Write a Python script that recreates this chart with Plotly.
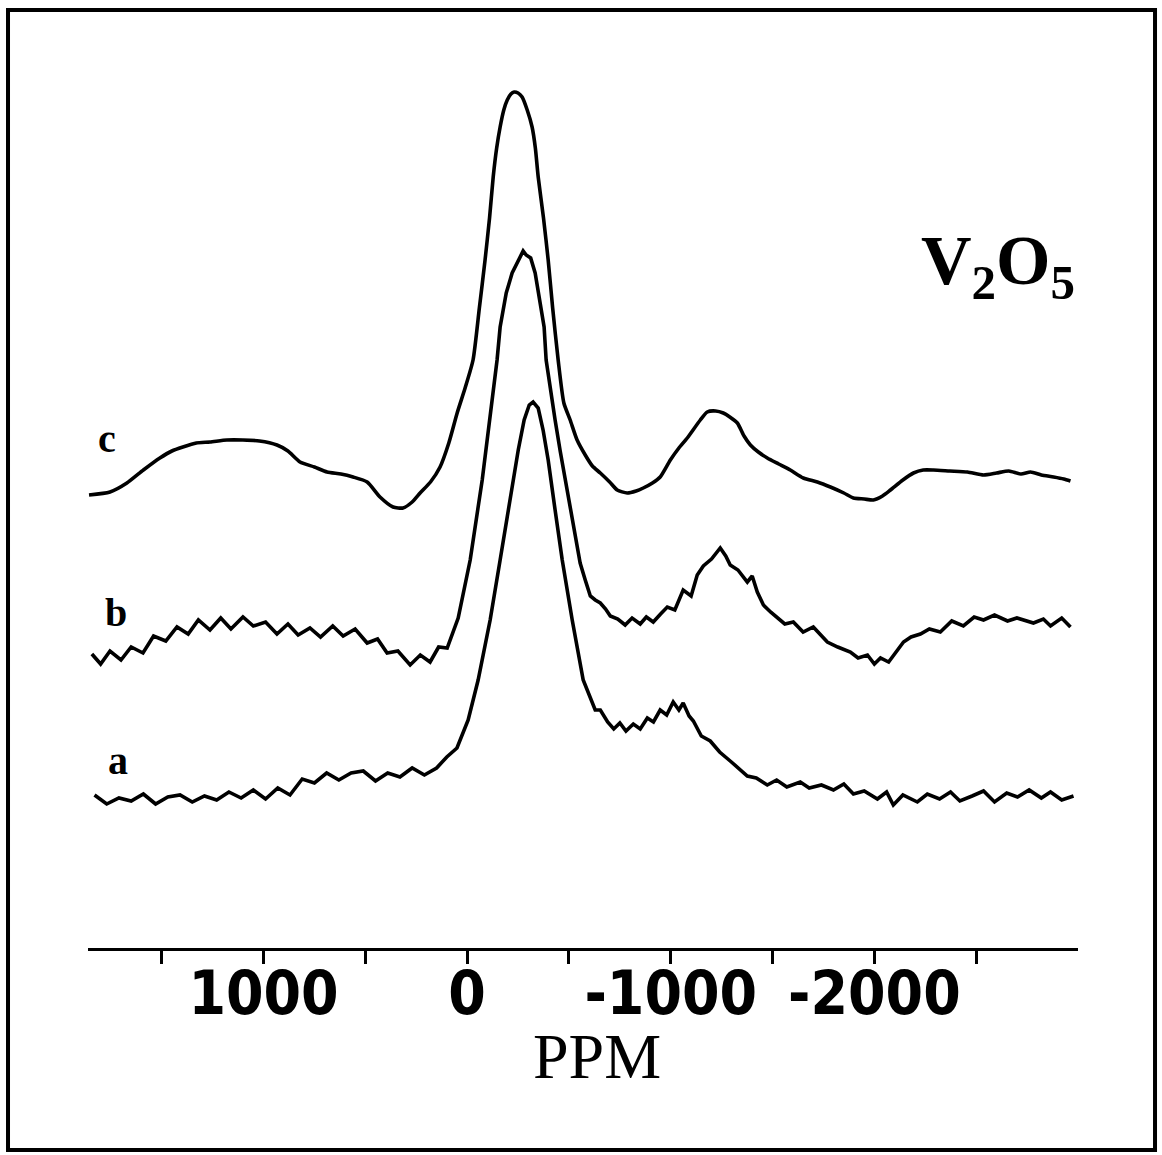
import plotly.graph_objects as go

# ---------------- data (chemical shift in ppm, stacked intensity in a.u.) ----------------
c_ppm = [1857, 1754, 1671, 1590, 1509, 1450, 1396, 1330, 1263, 1180, 1101, 1020, 934, 880, 821, 750,
         688, 620, 560, 491, 428, 364, 315, 270, 231, 180, 133, 90, 49, 10, -29, -60, -88, -110,
         -128, -145, -162, -180, -197, -215, -231, -250, -270, -295, -319, -335, -349, -375, -398,
         -420, -447, -475, -506, -540, -580, -615, -654, -700, -737, -786, -830, -865, -910, -948,
         -998, -1040, -1081, -1145, -1179, -1220, -1258, -1290, -1327, -1360, -1391, -1430, -1474,
         -1530, -1587, -1651, -1720, -1784, -1850, -1897, -1950, -1995, -2040, -2079, -2140, -2192,
         -2240, -2290, -2370, -2457, -2536, -2600, -2660, -2720, -2767, -2820, -2880, -2930, -2963]
c_int = [453, 456, 465, 478, 490, 497, 501, 505, 506, 508, 508, 507, 503, 497, 486, 481,
         476, 474, 471, 466, 451, 441, 440, 446, 455, 466, 481, 505, 535, 560, 588, 640, 688, 730,
         771, 800, 821, 838, 848, 854, 856, 855, 851, 838, 821, 800, 771, 730, 688,
         640, 588, 545, 528, 508, 493, 482, 475, 466, 458, 455, 457, 460, 465, 471,
         488, 500, 510, 528, 536, 537, 535, 531, 525, 512, 503, 496, 490,
         484, 478, 470, 466, 461, 455, 450, 449, 448, 452, 458, 468, 475,
         478, 478, 477, 476, 473, 475, 477, 474, 476, 473, 471, 469, 467]

b_ppm = [1843, 1800, 1754, 1700, 1650, 1592, 1540, 1480, 1425, 1370, 1320, 1263, 1210, 1160, 1101,
         1050, 990, 934, 880, 830, 772, 720, 660, 609, 550, 491, 440, 393, 340, 280, 230, 182, 140,
         98, 44, -15, -74, -123, -147, -162, -192, -221, -256, -275, -290, -312, -334, -356, -378,
         -388, -410, -432, -457, -482, -506, -531, -555, -580, -605, -629,
         -654, -680, -703, -740, -776, -810, -850, -880, -914, -950, -983, -1020, -1061, -1100,
         -1130, -1160, -1200, -1243, -1270, -1292, -1330, -1376, -1400, -1425, -1455, -1490, -1523,
         -1560, -1602, -1650, -1700, -1740, -1769, -1820, -1882, -1920, -1966, -2000, -2030, -2070,
         -2113, -2143, -2180, -2226, -2270, -2324, -2380, -2437, -2490, -2536, -2590, -2654, -2700,
         -2781, -2830, -2865, -2920, -2963]
b_int = [294, 284, 297, 288, 301, 295, 312, 307, 321, 314, 328, 318, 330, 319, 331,
         322, 326, 314, 324, 313, 320, 311, 322, 312, 319, 305, 309, 295, 297, 283, 293, 286, 301,
         300, 330, 388, 468, 548, 588, 621, 655, 675, 690, 697, 693, 690, 675, 648, 621,
         588, 555, 528, 497, 468, 437, 408, 385, 368, 352, 348,
         345, 339, 332, 329, 323, 330, 324, 331, 326, 334, 341, 338, 358, 352,
         373, 382, 389, 400, 392, 383, 378, 366, 372, 356, 343, 336, 330,
         324, 326, 316, 321, 312, 306, 301, 296, 290, 293, 284, 290, 286,
         297, 306, 311, 314, 319, 316, 327, 322, 331, 328, 333, 327, 330,
         325, 329, 322, 330, 321]

a_ppm = [1830, 1770, 1710, 1650, 1590, 1530, 1470, 1410, 1350, 1290, 1230, 1170, 1110, 1050, 990,
         930, 870, 810, 750, 690, 630, 570, 510, 450, 390, 330, 270, 210, 150, 100, 50,
         -5, -54, -113, -162, -211, -251, -280, -305, -324, -349, -373, -398, -432, -467, -516,
         -570, -629,
         -654, -690, -720, -750, -780, -816, -850, -885, -915, -948, -980, -1012, -1040, -1061,
         -1090, -1111, -1150, -1194, -1240, -1292, -1330, -1376, -1420, -1474, -1520, -1570, -1636,
         -1680, -1740, -1799, -1850, -1897, -1950, -2015, -2060, -2093, -2140, -2211, -2260, -2320,
         -2374, -2420, -2480, -2536, -2590, -2650, -2703, -2760, -2820, -2865, -2920, -2978]
a_int = [153, 144, 150, 147, 154, 144, 151, 153, 146, 152, 148, 156, 150, 158, 149,
         160, 153, 169, 165, 175, 168, 175, 177, 167, 175, 171, 180, 173, 180, 191, 200,
         228, 268, 328, 388, 448, 498, 528, 543, 546, 540, 518, 488, 438, 388, 328,
         268, 238,
         238, 226, 219, 225, 217, 224, 219, 230, 226, 238, 233, 246, 238, 245,
         232, 227, 212, 207, 196, 187, 180, 172, 170, 163, 168, 161, 166,
         160, 163, 158, 164, 154, 157, 149, 156, 143, 153, 146, 154, 149,
         156, 147, 152, 157, 146, 155, 151, 158, 150, 156, 148, 152]

trace_labels = ["c", "b", "a"]
label_pos_ppm = [1769, 1725, 1715]
label_pos_int = [510, 336, 188]

tick_vals = [1000, 0, -1000, -2000]
tick_text = ["1000", "0", "-1000", "-2000"]
minor_tick_vals = [1500, 500, -500, -1500, -2500]

# ---------------- figure ----------------
fig = go.Figure()
line_style = dict(color="black", width=3.6)
fig.add_trace(go.Scatter(x=c_ppm, y=c_int, mode="lines", line=dict(shape="spline", smoothing=0.6, **line_style)))
fig.add_trace(go.Scatter(x=b_ppm, y=b_int, mode="lines", line=line_style))
fig.add_trace(go.Scatter(x=a_ppm, y=a_int, mode="lines", line=line_style))

for lab, xp, yp in zip(trace_labels, label_pos_ppm, label_pos_int):
    fig.add_annotation(x=xp, y=yp, xref="x", yref="y", text=lab, showarrow=False,
                       xanchor="center", yanchor="middle",
                       font=dict(family="Liberation Serif", size=40, color="black", weight="bold"))

fig.add_annotation(x=0.919, y=0.768, xref="paper", yref="paper",
                   text="V<sub>2</sub>O<sub>5</sub>", showarrow=False,
                   xanchor="center", yanchor="middle",
                   font=dict(family="Liberation Serif", size=70, color="black", weight="bold"))

fig.add_annotation(x=0.514, y=-0.1227, xref="paper", yref="paper", text="PPM", showarrow=False,
                   xanchor="center", yanchor="middle",
                   font=dict(family="Liberation Serif", size=64, color="black"))

# outer frame of the figure
fig.add_shape(type="rect", xref="paper", yref="paper", x0=-0.0808, x1=1.0778, y0=-0.2275, y1=1.0563,
              line=dict(color="black", width=4))

fig.update_layout(
    width=1162, height=1155,
    margin=dict(l=88, r=84, t=60, b=207, autoexpand=False),
    paper_bgcolor="white", plot_bgcolor="white",
    showlegend=False,
    xaxis=dict(range=[1862, -3000], showgrid=False, zeroline=False, automargin=False,
               showline=True, linecolor="black", linewidth=3,
               ticks="outside", ticklen=13, tickwidth=3, tickcolor="black", tickangle=0,
               ticklabelstandoff=-22,
               tickmode="array", tickvals=tick_vals, ticktext=tick_text,
               minor=dict(tickmode="array", tickvals=minor_tick_vals, ticks="outside", ticklen=13,
                          tickwidth=3, tickcolor="black", showgrid=False),
               tickfont=dict(family="DejaVu Sans Condensed, sans-serif",
                             size=60, color="black", weight="bold")),
    yaxis=dict(range=[0, 888], visible=False, showgrid=False, zeroline=False),
)

fig.write_html("out.html")
